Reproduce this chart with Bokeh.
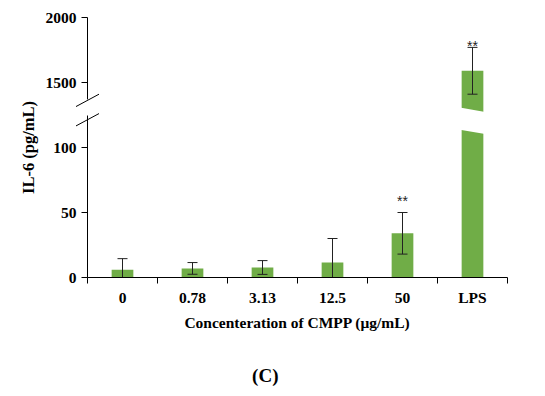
from bokeh.plotting import figure
from bokeh.models import Range1d, FixedTicker
from bokeh.core.properties import value
from bokeh.embed import file_html
from bokeh.resources import INLINE

# ---------------- data ----------------
CATEGORIES = ["0", "0.78", "3.13", "12.5", "50", "LPS"]
MEANS = [6.0, 7.0, 7.7, 11.5, 34.0, 1590.0]
SDS = [8.5, 4.5, 5.3, 18.5, 16.0, 180.0]
STARS = ["", "", "", "", "**", "**"]
LOWER_TICKS = [0, 50, 100]
UPPER_TICKS = [1500, 2000]
CAPTION = "(C)"

# ---------------- scale setup ----------------
LOWER_END = 200      # lower scale shown across frame
UPPER_END = 2000     # upper scale shown across frame
RATIO = UPPER_END / LOWER_END
AXIS_GAP = (124.6, 137.0)   # broken-axis gap (lower units)
BAR_GAP_TOP = 1315          # LPS bar break (upper units, left side)
BAR_GAP_SLANT = 38
BAR_GAP_SIZE = 170
BAR_W = 0.31
GREEN = "#70AD47"
FONT = "Liberation Serif"

n = len(CATEGORIES)
xs = list(range(n))
lower_idx = [i for i in xs if MEANS[i] < LOWER_END]
upper_idx = [i for i in xs if MEANS[i] >= LOWER_END]

p = figure(frame_width=420, frame_height=260, output_backend="svg",
           toolbar_location=None, x_range=Range1d(-0.5, n - 0.5),
           y_range=Range1d(0, LOWER_END),
           min_border_left=87, min_border_top=17, min_border_right=21,
           min_border_bottom=111)
p.extra_y_ranges = {"upper": Range1d(0, UPPER_END)}
p.outline_line_color = None
p.grid.grid_line_color = None
p.background_fill_color = "white"

# lower bars
p.vbar(x=[xs[i] for i in lower_idx], top=[MEANS[i] for i in lower_idx],
       width=BAR_W, fill_color=GREEN, line_color=None)
# upper (broken) bar
p.vbar(x=[xs[i] for i in upper_idx], top=[MEANS[i] for i in upper_idx],
       width=BAR_W, fill_color=GREEN, line_color=None, y_range_name="upper")
# white slanted gap across the broken bar
hw = BAR_W / 2 * 1.3
slope = BAR_GAP_SLANT / BAR_W
for i in upper_idx:
    xl, xr = xs[i] - hw, xs[i] + hw
    tl = BAR_GAP_TOP + slope * (BAR_W / 2 - hw)
    tr = BAR_GAP_TOP - BAR_GAP_SLANT - slope * (hw - BAR_W / 2)
    p.patch([xl, xr, xr, xl], [tl, tr, tr - BAR_GAP_SIZE, tl - BAR_GAP_SIZE],
            fill_color="white", line_color=None, y_range_name="upper")

# error bars
def errbars(idx, rng):
    kw = {} if rng is None else {"y_range_name": rng}
    x = [xs[i] for i in idx]
    lo = [MEANS[i] - SDS[i] for i in idx]
    hi = [MEANS[i] + SDS[i] for i in idx]
    p.segment(x0=x, y0=lo, x1=x, y1=hi, line_color="#222222", line_width=1, **kw)
    p.scatter(x=x + x, y=lo + hi, marker="dash", size=10, line_color="#222222",
              line_width=1, **kw)

errbars(lower_idx, None)
errbars(upper_idx, "upper")

# significance stars
for idx, rng, off in ((lower_idx, None, -12), (upper_idx, "upper", -1)):
    kw = {} if rng is None else {"y_range_name": rng}
    sel = [i for i in idx if STARS[i]]
    if sel:
        p.text(x=[xs[i] for i in sel], y=[MEANS[i] + SDS[i] for i in sel],
               text=[STARS[i] for i in sel], text_align="center",
               text_baseline="middle", y_offset=off, text_font_size="14px",
               text_color="#222222", **kw)

# axes
xa = p.xaxis[0]
xa.ticker = FixedTicker(ticks=xs, minor_ticks=[x - 0.5 for x in xs] + [n - 0.5])
xa.major_label_overrides = {x: c for x, c in zip(xs, CATEGORIES)}
xa.major_tick_line_color = None
xa.major_tick_out = 6
xa.minor_tick_out = 6
xa.minor_tick_in = 0
xa.minor_tick_line_color = "black"
xa.axis_line_color = "black"
xa.axis_label = "Concenteration of CMPP (μg/mL)"

ya = p.yaxis[0]
upper_pos = [t / RATIO for t in UPPER_TICKS]
ya.ticker = FixedTicker(ticks=LOWER_TICKS + upper_pos, minor_ticks=[])
ya.major_label_overrides = {**{t: str(t) for t in LOWER_TICKS},
                            **{u: str(t) for u, t in zip(upper_pos, UPPER_TICKS)}}
ya.major_tick_out = 6
ya.major_tick_in = 0
ya.major_tick_line_color = "black"
ya.axis_line_color = None
ya.axis_label = "IL-6 (pg/mL)"
ya.major_label_standoff = 5

for ax in (xa, ya):
    ax.major_label_text_font = FONT
    ax.major_label_text_font_style = "bold"
    ax.major_label_text_font_size = "15.5px"
    ax.major_label_text_color = "black"
    ax.axis_label_text_font = FONT
    ax.axis_label_text_font_style = "bold"
    ax.axis_label_text_font_size = "15.5px"
    ax.axis_label_text_color = "black"
ya.axis_label_text_font_size = "16.5px"

# broken y-axis line + break marks (drawn unclipped)
r1 = p.segment(x0=[-0.5, -0.5], y0=[0, AXIS_GAP[1]], x1=[-0.5, -0.5],
               y1=[AXIS_GAP[0], LOWER_END], line_color="black", line_width=1)
r1.level = "overlay"
dx = 11.5 / 70.0
r2 = p.segment(x0=[-0.5 - dx, -0.5 - dx], y0=[AXIS_GAP[1] - 5.5, AXIS_GAP[0] - 8],
               x1=[-0.5 + dx, -0.5 + dx], y1=[AXIS_GAP[1] + 4, AXIS_GAP[0] + 1.5],
               line_color="black", line_width=1)
r2.level = "overlay"

# panel caption (below the plot, drawn unclipped)
r3 = p.text(x=[2.04], y=[-75.4], text=[CAPTION], text_font=value(FONT),
            text_font_style="bold", text_font_size="19px", text_align="center",
            text_baseline="middle", text_color="black")
r3.level = "overlay"

open("out.html", "w").write(file_html(p, INLINE))
